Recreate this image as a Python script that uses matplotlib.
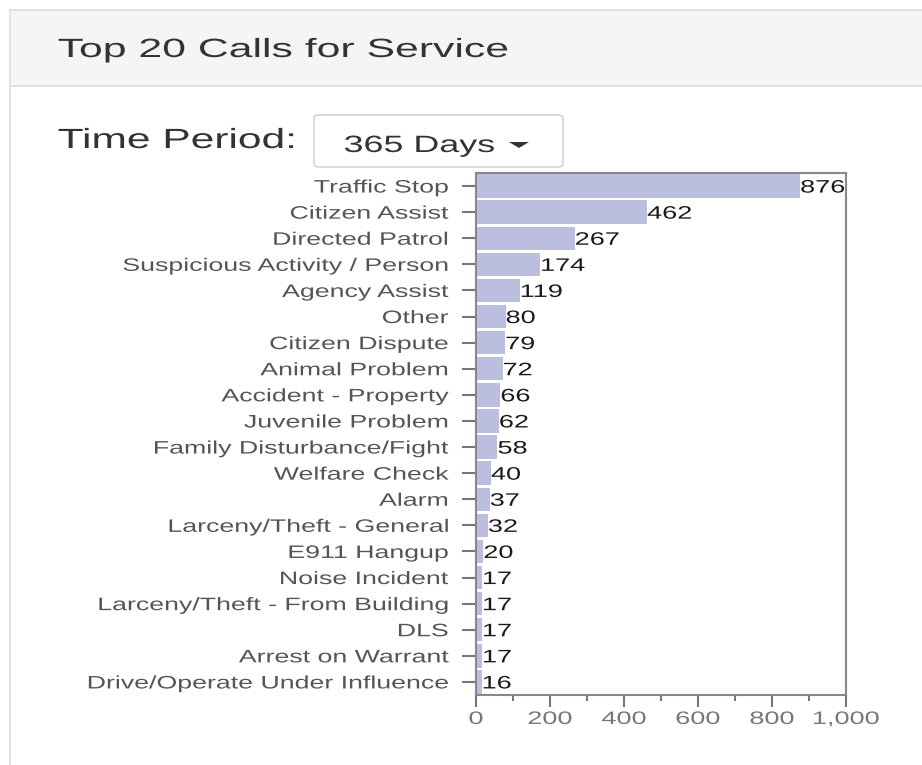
import matplotlib
matplotlib.use('Agg')
import matplotlib.pyplot as plt
from matplotlib.patches import Rectangle, FancyBboxPatch, Polygon
from matplotlib.patheffects import AbstractPathEffect
from matplotlib.transforms import Affine2D
from matplotlib.ticker import MultipleLocator, FuncFormatter

plt.rcParams['font.family'] = ['Liberation Sans', 'DejaVu Sans']

categories = [
    "Traffic Stop", "Citizen Assist", "Directed Patrol", "Suspicious Activity / Person",
    "Agency Assist", "Other", "Citizen Dispute", "Animal Problem", "Accident - Property",
    "Juvenile Problem", "Family Disturbance/Fight", "Welfare Check", "Alarm",
    "Larceny/Theft - General", "E911 Hangup", "Noise Incident",
    "Larceny/Theft - From Building", "DLS", "Arrest on Warrant",
    "Drive/Operate Under Influence",
]
counts = [876, 462, 267, 174, 119, 80, 79, 72, 66, 62, 58, 40, 37, 32, 20, 17, 17, 17, 17, 16]
x_ticks = [0, 200, 400, 600, 800, 1000]


class HStretch(AbstractPathEffect):
    """Widen glyphs horizontally around the text's anchor (the screenshot is stretched)."""

    def __init__(self, sx, anchor='left'):
        super().__init__()
        self.sx = sx
        self.anchor = anchor

    def draw_path(self, renderer, gc, tpath, affine, rgbFace=None):
        ext = tpath.get_extents(affine)
        if self.anchor == 'left':
            a = ext.x0
        elif self.anchor == 'right':
            a = ext.x1
        else:
            a = 0.5 * (ext.x0 + ext.x1)
        t = affine + Affine2D().translate(-a, 0).scale(self.sx, 1).translate(a, 0)
        renderer.draw_path(gc, tpath, t, rgbFace)


W, H = 922, 765
fig = plt.figure(figsize=(W / 100, H / 100), dpi=100)
fig.patch.set_facecolor('white')


def fx(px):
    return px / W


def fy(py):
    return 1 - py / H


# panel chrome
fig.patches.append(Rectangle((fx(10), fy(86)), 1 - fx(10), fy(10) - fy(86),
                             transform=fig.transFigure, facecolor='#f5f5f5',
                             edgecolor='none', zorder=0))
for xs, ys in [([10, W], [86, 86]), ([10, W], [10, 10]), ([10, 10], [10, H])]:
    fig.lines.append(plt.Line2D([fx(v) for v in xs], [fy(v) for v in ys],
                                transform=fig.transFigure, color='#dddddd', lw=1.2))

fig.text(fx(58), fy(57), "Top 20 Calls for Service", fontsize=19, color='#333333',
         va='baseline', ha='left', path_effects=[HStretch(1.62, 'left')])
fig.text(fx(58), fy(148), "Time Period:", fontsize=20, color='#333333',
         va='baseline', ha='left', path_effects=[HStretch(1.53, 'left')])
fig.patches.append(FancyBboxPatch((fx(314), fy(167)), fx(563) - fx(314), fy(115) - fy(167),
                                  boxstyle='round,pad=0,rounding_size=0.005',
                                  transform=fig.transFigure, facecolor='white',
                                  edgecolor='#cccccc', lw=1.0))
fig.text(fx(344), fy(152), "365 Days", fontsize=17, color='#333333', va='baseline',
         ha='left', path_effects=[HStretch(1.52, 'left')])
fig.patches.append(Polygon([(fx(509), fy(142)), (fx(529), fy(142)), (fx(519), fy(148))],
                           closed=True, transform=fig.transFigure, facecolor='#333333',
                           edgecolor='none'))

# chart
ax = fig.add_axes([fx(476), fy(695), fx(846) - fx(476), fy(173) - fy(695)])
y = list(range(len(categories)))
ax.barh(y, counts, height=0.9, color='#bbbedf', edgecolor='none')
for yi, v in zip(y, counts):
    ax.text(v + 1, yi, str(v), va='center_baseline', ha='left', fontsize=13, color='#1a1a1a',
            path_effects=[HStretch(1.5, 'left')])

ax.set_ylim(len(categories) - 0.5, -0.5)
ax.set_xlim(0, 1000)
ax.set_yticks(y)
ax.set_yticklabels(categories, fontsize=13, color='#555555', va='center_baseline')
for t in ax.get_yticklabels():
    t.set_path_effects([HStretch(1.48, 'right')])
ax.set_xticks(x_ticks)
ax.xaxis.set_minor_locator(MultipleLocator(100))
ax.xaxis.set_major_formatter(FuncFormatter(lambda v, p: f"{int(v):,}"))
ax.tick_params(axis='x', which='major', length=8.5, width=1.5, color='#777777',
               labelsize=13, labelcolor='#777777', pad=3)
ax.tick_params(axis='x', which='minor', length=4.5, width=1.5, color='#777777')
ax.tick_params(axis='y', length=10, width=1.5, color='#777777', pad=10)
for t in ax.get_xticklabels():
    t.set_path_effects([HStretch(1.5, 'center')])
for s in ax.spines.values():
    s.set_edgecolor('#888888')
    s.set_linewidth(1.5)

fig.savefig('out.png', dpi=100, facecolor='white')
